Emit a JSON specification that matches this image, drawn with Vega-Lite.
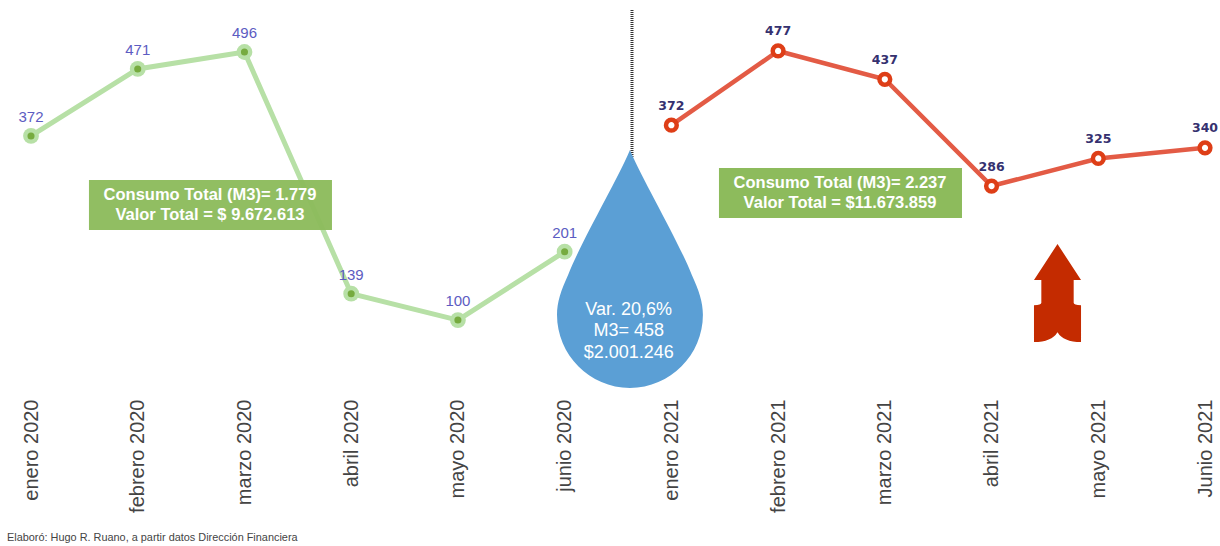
{
"$schema":"https://vega.github.io/schema/vega-lite/v6.json",
"width":1220,"height":546,"autosize":"none","padding":0,"background":"white",
"config":{"view":{"stroke":null},"font":"Liberation Sans"},
"datasets":{
"verde":[{"i":0,"mes":"enero 2020","m3":372},{"i":1,"mes":"febrero 2020","m3":471},{"i":2,"mes":"marzo 2020","m3":496},{"i":3,"mes":"abril 2020","m3":139},{"i":4,"mes":"mayo 2020","m3":100},{"i":5,"mes":"junio 2020","m3":201}],
"rojo":[{"i":6,"mes":"enero 2021","m3":372},{"i":7,"mes":"febrero 2021","m3":477},{"i":8,"mes":"marzo 2021","m3":437},{"i":9,"mes":"abril 2021","m3":286},{"i":10,"mes":"mayo 2021","m3":325},{"i":11,"mes":"Junio 2021","m3":340}]
},
"resolve":{"scale":{"y":"independent"},"axis":{"x":"independent"}},
"layer":[
{"data":{"name":"verde"},"mark":{"type":"line","color":"#B7E0A6","strokeWidth":5,"clip":false},
 "encoding":{"x":{"field":"i","type":"quantitative","title":null,"scale":{"domain":[-0.2905,11.1405],"nice":false,"zero":false},
   "axis":{"orient":"bottom","offset":-148,"values":[0,1,2,3,4,5,6,7,8,9,10,11],"domain":false,"ticks":false,"grid":false,"labelAngle":-90,"labelAlign":"right","labelBaseline":"middle","labelPadding":1,"labelFontSize":20,"labelColor":"#444444","labelFont":"Liberation Sans","labelOverlap":false,"labelFlush":false,
   "labelExpr":"['enero 2020','febrero 2020','marzo 2020','abril 2020','mayo 2020','junio 2020','enero 2021','febrero 2021','marzo 2021','abril 2021','mayo 2021','Junio 2021'][datum.value]"}},
  "y":{"field":"m3","type":"quantitative","axis":null,"scale":{"domain":[-233.7,572.8],"nice":false,"zero":false}}}},
{"data":{"name":"verde"},"mark":{"type":"point","filled":true,"color":"#B7E0A6","size":250,"opacity":1},
 "encoding":{"x":{"field":"i","type":"quantitative","axis":null},"y":{"field":"m3","type":"quantitative","axis":null,"scale":{"domain":[-233.7,572.8],"nice":false,"zero":false}}}},
{"data":{"name":"verde"},"mark":{"type":"point","filled":true,"color":"#76AB3F","size":50,"opacity":1},
 "encoding":{"x":{"field":"i","type":"quantitative","axis":null},"y":{"field":"m3","type":"quantitative","axis":null,"scale":{"domain":[-233.7,572.8],"nice":false,"zero":false}}}},
{"data":{"name":"verde"},"mark":{"type":"text","color":"#5C5CC2","fontSize":15,"dy":-19,"font":"Liberation Sans"},
 "encoding":{"x":{"field":"i","type":"quantitative","axis":null},"y":{"field":"m3","type":"quantitative","axis":null,"scale":{"domain":[-233.7,572.8],"nice":false,"zero":false}},"text":{"field":"m3","type":"nominal"}}},
{"data":{"values":[{"x1":0.543,"x2":2.82,"y1":306.9,"y2":233}]},"mark":{"type":"rect","color":"#8DBB5C","opacity":0.96},
 "encoding":{"x":{"field":"x1","type":"quantitative","axis":null},"x2":{"field":"x2"},"y":{"field":"y1","type":"quantitative","axis":null,"scale":{"domain":[-233.7,572.8],"nice":false,"zero":false}},"y2":{"field":"y2"}}},
{"data":{"values":[{"x":1.677,"y":284.8,"t":"Consumo Total (M3)= 1.779"},{"x":1.677,"y":255.2,"t":"Valor Total = $ 9.672.613"}]},"mark":{"type":"text","color":"white","fontSize":16.5,"fontWeight":"bold","font":"Liberation Sans"},
 "encoding":{"x":{"field":"x","type":"quantitative","axis":null},"y":{"field":"y","type":"quantitative","axis":null,"scale":{"domain":[-233.7,572.8],"nice":false,"zero":false}},"text":{"field":"t"}}},
{"data":{"values":[{"x":5.631,"y1":558,"y2":340.9}]},"mark":{"type":"rule","color":"#333333","strokeWidth":3,"strokeDash":[1,1]},
 "encoding":{"x":{"field":"x","type":"quantitative","axis":null},"y":{"field":"y1","type":"quantitative","axis":null,"scale":{"domain":[-233.7,572.8],"nice":false,"zero":false}},"y2":{"field":"y2"}}},
{"data":{"values":[{"x":5.612,"y":175.5}]},"mark":{"type":"point","filled":true,"opacity":1,"color":"#5B9FD5","size":56644,"shape":"M0,-1 C-0.12,-0.72 -0.40,-0.25 -0.52,0.05 C-0.58,0.18 -0.613,0.28 -0.613,0.385 C-0.613,0.72 -0.34,1 0,1 C0.34,1 0.613,0.72 0.613,0.385 C0.613,0.28 0.58,0.18 0.52,0.05 C0.40,-0.25 0.12,-0.72 0,-1 Z"},
 "encoding":{"x":{"field":"x","type":"quantitative","axis":null},"y":{"field":"y","type":"quantitative","axis":null,"scale":{"domain":[-233.7,572.8],"nice":false,"zero":false}}}},
{"data":{"values":[{"x":5.6,"y":114.9,"t":"Var. 20,6%"},{"x":5.6,"y":83.9,"t":"M3= 458"},{"x":5.6,"y":51.4,"t":"$2.001.246"}]},"mark":{"type":"text","color":"white","fontSize":18,"font":"Liberation Sans"},
 "encoding":{"x":{"field":"x","type":"quantitative","axis":null},"y":{"field":"y","type":"quantitative","axis":null,"scale":{"domain":[-233.7,572.8],"nice":false,"zero":false}},"text":{"field":"t"}}},
{"data":{"values":[{"x":9.618,"y":140}]},"mark":{"type":"point","filled":true,"opacity":1,"color":"#C42B00","size":9604,"shape":"M0,-1 L0.48,-0.265 L0.33,-0.265 L0.33,0.2 Q0.33,0.25 0.48,0.25 L0.48,1 Q0.12,1 0,0.8 Q-0.12,1 -0.48,1 L-0.48,0.25 Q-0.33,0.25 -0.33,0.2 L-0.33,-0.265 L-0.48,-0.265 Z"},
 "encoding":{"x":{"field":"x","type":"quantitative","axis":null},"y":{"field":"y","type":"quantitative","axis":null,"scale":{"domain":[-233.7,572.8],"nice":false,"zero":false}}}},
{"data":{"values":[{"x":-0.2249,"y":-221.9,"t":"Elaboró: Hugo R. Ruano, a partir datos Dirección Financiera"}]},"mark":{"type":"text","color":"#444444","fontSize":10.9,"align":"left","font":"Liberation Sans"},
 "encoding":{"x":{"field":"x","type":"quantitative","axis":null},"y":{"field":"y","type":"quantitative","axis":null,"scale":{"domain":[-233.7,572.8],"nice":false,"zero":false}},"text":{"field":"t"}}},
{"data":{"name":"rojo"},"mark":{"type":"line","color":"#E35B45","strokeWidth":4.5},
 "encoding":{"x":{"field":"i","type":"quantitative","axis":null},"y":{"field":"m3","type":"quantitative","axis":null,"scale":{"domain":[-223.1,549.1],"nice":false,"zero":false}}}},
{"data":{"name":"rojo"},"mark":{"type":"point","filled":false,"fill":"white","stroke":"#DE3E17","strokeWidth":4.5,"size":115,"opacity":1},
 "encoding":{"x":{"field":"i","type":"quantitative","axis":null},"y":{"field":"m3","type":"quantitative","axis":null,"scale":{"domain":[-223.1,549.1],"nice":false,"zero":false}}}},
{"data":{"name":"rojo"},"mark":{"type":"text","color":"#35316F","fontSize":12.5,"fontWeight":"bold","font":"DejaVu Sans","dy":-19.5},
 "encoding":{"x":{"field":"i","type":"quantitative","axis":null},"y":{"field":"m3","type":"quantitative","axis":null,"scale":{"domain":[-223.1,549.1],"nice":false,"zero":false}},"text":{"field":"m3","type":"nominal"}}},
{"data":{"values":[{"x1":6.446,"x2":8.723,"y1":311.5,"y2":240.8}]},"mark":{"type":"rect","color":"#8DBB5C"},
 "encoding":{"x":{"field":"x1","type":"quantitative","axis":null},"x2":{"field":"x2"},"y":{"field":"y1","type":"quantitative","axis":null,"scale":{"domain":[-223.1,549.1],"nice":false,"zero":false}},"y2":{"field":"y2"}}},
{"data":{"values":[{"x":7.58,"y":290.3,"t":"Consumo Total (M3)=  2.237"},{"x":7.58,"y":262,"t":"Valor Total = $11.673.859"}]},"mark":{"type":"text","color":"white","fontSize":16.5,"fontWeight":"bold","font":"Liberation Sans"},
 "encoding":{"x":{"field":"x","type":"quantitative","axis":null},"y":{"field":"y","type":"quantitative","axis":null,"scale":{"domain":[-223.1,549.1],"nice":false,"zero":false}},"text":{"field":"t"}}}
]
}
